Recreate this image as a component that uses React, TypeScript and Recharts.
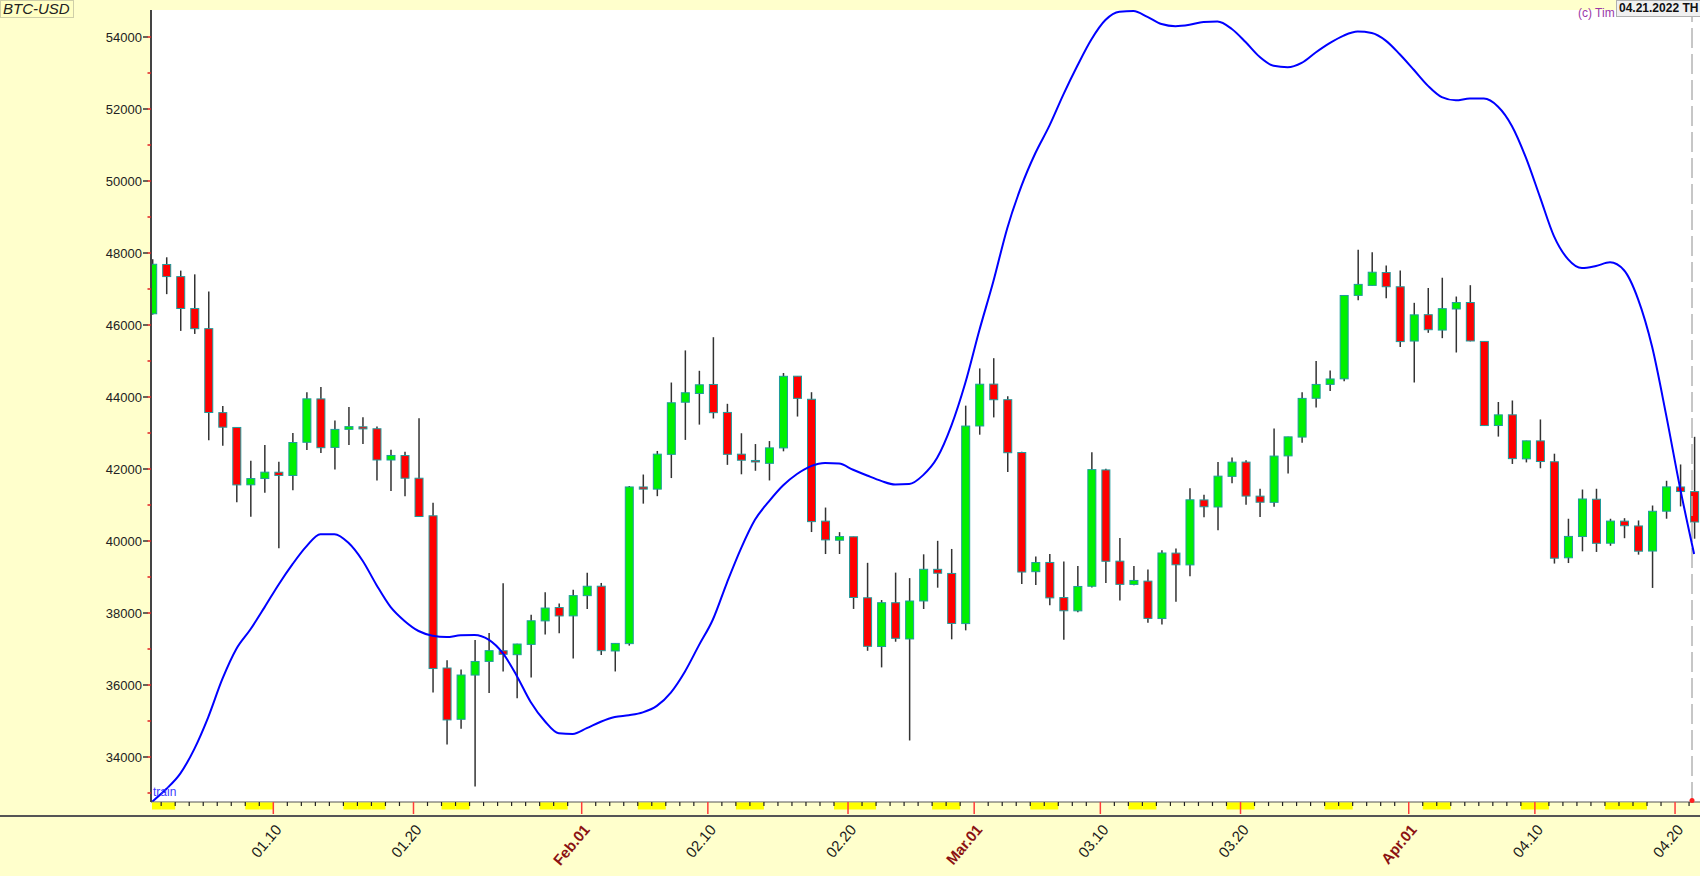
import React from 'react';
import {
  ComposedChart, Bar, Line, XAxis, YAxis, CartesianGrid, ReferenceLine, ReferenceDot,
} from 'recharts';

// BTC-USD daily candles, 01.01.2022 .. 04.21.2022
const dates = [
  '01.01', '01.02', '01.03', '01.04', '01.05', '01.06', '01.07', '01.08', '01.09', '01.10',
  '01.11', '01.12', '01.13', '01.14', '01.15', '01.16', '01.17', '01.18', '01.19', '01.20',
  '01.21', '01.22', '01.23', '01.24', '01.25', '01.26', '01.27', '01.28', '01.29', '01.30', '01.31',
  '02.01', '02.02', '02.03', '02.04', '02.05', '02.06', '02.07', '02.08', '02.09', '02.10',
  '02.11', '02.12', '02.13', '02.14', '02.15', '02.16', '02.17', '02.18', '02.19', '02.20',
  '02.21', '02.22', '02.23', '02.24', '02.25', '02.26', '02.27', '02.28',
  '03.01', '03.02', '03.03', '03.04', '03.05', '03.06', '03.07', '03.08', '03.09', '03.10',
  '03.11', '03.12', '03.13', '03.14', '03.15', '03.16', '03.17', '03.18', '03.19', '03.20',
  '03.21', '03.22', '03.23', '03.24', '03.25', '03.26', '03.27', '03.28', '03.29', '03.30', '03.31',
  '04.01', '04.02', '04.03', '04.04', '04.05', '04.06', '04.07', '04.08', '04.09', '04.10',
  '04.11', '04.12', '04.13', '04.14', '04.15', '04.16', '04.17', '04.18', '04.19', '04.20', '04.21',
];

const opens = [
  46312, 47681, 47344, 46459, 45899, 43566, 43154, 41561, 41735, 41910, 41820, 42742, 43947, 42599, 43102, 43172,
  43118, 42250, 42374, 41744, 40700, 36472, 35047, 36276, 36655, 36951, 36842, 37128, 37781, 38152, 37920,
  38482, 38744, 36945, 37149, 41501, 41441, 42407, 43855, 44097, 44348, 43571, 42412, 42237, 42157, 42586,
  44578, 43937, 40552, 40022, 40118, 38423, 37069, 38285, 37279, 38334, 39213, 39099, 37706,
  43195, 44358, 43925, 42458, 39148, 39404, 38429, 38060, 38743, 41974, 39440, 38794, 38885, 37846, 39664,
  39336, 41141, 40945, 41795, 42191, 41246, 41074, 42364, 42887, 43965, 44350, 44505, 46822, 47100, 47457, 47062,
  45554, 46286, 45859, 46445, 46625, 45544, 43208, 43505, 42282, 42781, 42201, 39534, 40124, 41160, 39939,
  40552, 40418, 39721, 40828, 41501, 41372,
];

const highs = [
  47827, 47881, 47511, 47407, 46929, 43749, 43154, 42229, 42664, 42199, 43001, 44135, 44278, 43347, 43725, 43437,
  43179, 42534, 42478, 43413, 41061, 36689, 36433, 37248, 37445, 38825, 37148, 37953, 38576, 38266, 38647,
  39115, 38835, 37155, 41528, 41847, 42501, 44402, 45294, 44728, 45661, 43811, 42993, 42693, 42776, 44667,
  44578, 44133, 40929, 40246, 40120, 39394, 38360, 39122, 38969, 39630, 40005, 39779, 43760,
  44794, 45078, 44022, 42480, 39566, 39640, 39430, 39304, 42466, 42005, 40082, 39309, 39209, 39743, 39795,
  41465, 41288, 42196, 42317, 42241, 41454, 43125, 42894, 44132, 44999, 44735, 46828, 48087, 48022, 47655, 47512,
  46616, 47028, 47313, 46791, 47106, 45544, 43861, 43903, 42786, 43376, 42425, 40618, 41430, 41451, 40618,
  40634, 40571, 40986, 41673, 42126, 42894,
];

const lows = [
  46288, 46857, 45836, 45752, 42798, 42646, 41077, 40672, 41338, 39797, 41408, 42529, 42447, 41983, 42669, 42691,
  41680, 41392, 41243, 40673, 35791, 34349, 34785, 33184, 35779, 36375, 35629, 36211, 37406, 37438, 36734,
  38114, 36833, 36376, 37094, 41038, 41245, 41748, 42808, 43233, 43403, 42115, 41853, 41951, 41682, 42491,
  43457, 40249, 39638, 39639, 38113, 36950, 36489, 37202, 34459, 38111, 38703, 37269, 37518,
  42953, 43433, 41915, 38806, 38777, 38212, 37260, 38021, 38706, 38833, 38347, 38773, 37728, 37681, 38310,
  39022, 40663, 40302, 41603, 41005, 40668, 40948, 41878, 42726, 43706, 44166, 44437, 46690, 47100, 46746, 45391,
  44403, 45783, 45634, 45236, 45545, 43194, 42900, 42140, 42183, 42021, 39373, 39388, 39713, 39696, 39867,
  40078, 39621, 38696, 40619, 40961, 40064,
];

const closes = [
  47687, 47345, 46458, 45898, 43569, 43161, 41558, 41734, 41912, 41821, 42736, 43949, 42592, 43100, 43177, 43114,
  42251, 42376, 41744, 40680, 36457, 35030, 36277, 36654, 36954, 36852, 37138, 37784, 38138, 37918, 38483,
  38743, 36953, 37155, 41501, 41441, 42412, 43840, 44118, 44339, 43565, 42408, 42244, 42198, 42587, 44575,
  43962, 40538, 40031, 40122, 38431, 37075, 38286, 37297, 38333, 39214, 39105, 37710, 43193,
  44355, 43924, 42452, 39138, 39401, 38420, 38062, 38737, 41983, 39437, 38795, 38904, 37850, 39667, 39339,
  41144, 40951, 41801, 42191, 41248, 41077, 42359, 42893, 43961, 44349, 44501, 46820, 47128, 47466, 47063, 45539,
  46282, 45869, 46454, 46623, 45556, 43207, 43504, 42288, 42782, 42208, 39522, 40127, 41167, 39936, 40553,
  40424, 39717, 40826, 41503, 41374, 40527,
];

// the blue "train" curve
const train = [
  32760, 33110, 33540, 34220, 35110, 36160, 37000, 37540, 38150, 38780, 39350, 39850, 40190, 40190, 39950, 39460,
  38780, 38170, 37780, 37500, 37370, 37330, 37380, 37390, 37260, 36890, 36260, 35530, 35000, 34660, 34640,
  34800, 34980, 35110, 35160, 35240, 35420, 35790, 36370, 37100, 37820, 38840, 39790, 40590, 41100, 41540,
  41860, 42080, 42170, 42150, 41980, 41820, 41670, 41570, 41580, 41830, 42310, 43190, 44380,
  45840, 47200, 48690, 49850, 50770, 51530, 52400, 53200, 53930, 54470, 54700, 54720, 54560, 54360, 54300,
  54340, 54420, 54430, 54230, 53860, 53450, 53200, 53160, 53280, 53570, 53830, 54040, 54150, 54110, 53900, 53520,
  53090, 52650, 52330, 52240, 52290, 52290, 52070, 51530, 50650, 49560, 48470, 47830, 47580, 47640, 47740,
  47520, 46720, 45400, 43510, 41470, 39640,
];

// weekend / exchange holiday days, marked yellow on the time axis
const offDays = [
  '01.01', '01.02', '01.08', '01.09', '01.15', '01.16', '01.17', '01.22', '01.23', '01.29', '01.30',
  '02.05', '02.06', '02.12', '02.13', '02.19', '02.20', '02.21', '02.26', '02.27',
  '03.05', '03.06', '03.12', '03.13', '03.19', '03.20', '03.26', '03.27',
  '04.02', '04.03', '04.09', '04.10', '04.15', '04.16', '04.17',
];

const tickLabels: Record<string, string> = {
  '01.10': '01.10', '01.20': '01.20', '02.01': 'Feb.01', '02.10': '02.10', '02.20': '02.20',
  '03.01': 'Mar.01', '03.10': '03.10', '03.20': '03.20', '04.01': 'Apr.01', '04.10': '04.10', '04.20': '04.20',
};

const yTicks = [
  33000, 34000, 35000, 36000, 37000, 38000, 39000, 40000, 41000, 42000, 43000,
  44000, 45000, 46000, 47000, 48000, 49000, 50000, 51000, 52000, 53000, 54000,
];

const W = 1700;
const H = 876;
const PLOT_LEFT = 151;
const PLOT_TOP = 10;
const PLOT_BOTTOM = 802;
const X_MIN = -0.086;
const X_MAX = 110.42;
const Y_MIN = 32750;
const Y_MAX = 54750;
const SLOT = (W - PLOT_LEFT) / (X_MAX - X_MIN);
const TICK_OFF = 0.36;
const FONT = '"Liberation Sans", Arial, sans-serif';

const rows = dates.map((d, i) => ({
  i, date: d, o: opens[i], h: highs[i], l: lows[i], c: closes[i], train: train[i],
}));

const Candle = (props: any) => {
  const { x, y, width, height, payload } = props;
  const { o, h, l, c } = payload;
  const k = height / (h - l || 1);
  const cx = x + width / 2;
  const top = y + (h - Math.max(o, c)) * k;
  const bot = y + (h - Math.min(o, c)) * k;
  const up = c >= o;
  return (
    <g>
      <line x1={cx} x2={cx} y1={y} y2={y + height} stroke="#333" strokeWidth={1.5} />
      <rect
        x={cx - 4} y={top} width={8} height={Math.max(bot - top, 1.5)}
        fill={up ? '#00f000' : '#ff0000'} stroke="#1f9c9c" strokeWidth={1}
      />
    </g>
  );
};

const XTick = (props: any) => {
  const { x, y, payload } = props;
  const d = dates[payload.value];
  if (d === undefined) return null;
  const label = tickLabels[d];
  const month = label && /[A-Za-z]/.test(label);
  const tx = x - TICK_OFF * SLOT;
  const off = offDays.includes(d);
  const left = Math.max(tx, PLOT_LEFT + 1);
  return (
    <g>
      {off && <rect x={left} y={y + 0.5} width={tx + SLOT - left} height={7} fill="#ffff00" />}
      {tx > PLOT_LEFT + 1 && (label
        ? <line x1={tx} x2={tx} y1={y} y2={y + 12} stroke="#ff3b3b" strokeWidth={1.5} />
        : <line x1={tx} x2={tx} y1={y} y2={y + 4} stroke="#222" strokeWidth={1.2} />)}
      {label && (
        <text
          transform={`translate(${tx + 9},${y + 28}) rotate(-50)`}
          textAnchor="end"
          fontFamily={FONT}
          fontSize={15}
          fontWeight={month ? 700 : 400}
          fill={month ? '#8b1212' : '#1a1a1a'}
        >
          {label}
        </text>
      )}
    </g>
  );
};

const YTick = (props: any) => {
  const { x, y, payload } = props;
  const v = payload.value;
  const major = v % 2000 === 0;
  return (
    <g>
      {major && <line x1={x - 8} x2={x - 3} y1={y} y2={y} stroke="#333" strokeWidth={1.5} />}
      <line x1={x - 3.5} x2={x} y1={y} y2={y} stroke="#e02020" strokeWidth={1.5} />
      {major && (
        <text x={x - 9} y={y} dy={4.5} textAnchor="end" fontFamily={FONT} fontSize={13} fill="#222">
          {v}
        </text>
      )}
    </g>
  );
};

export default function App() {
  return (
    <div style={{ position: 'absolute', left: 0, top: 0, width: W, height: H, background: '#ffffcc', overflow: 'hidden', fontFamily: FONT }}>
      <ComposedChart width={W} height={H} data={rows} margin={{ top: PLOT_TOP, right: 0, bottom: 0, left: 0 }}>
        <CartesianGrid fill="#ffffff" horizontal={false} vertical={false} stroke="none" />
        <XAxis
          type="number" dataKey="i" domain={[X_MIN, X_MAX]} allowDataOverflow
          ticks={rows.map(r => r.i)} interval={0} tick={<XTick />}
          tickLine={false} tickSize={0} tickMargin={0} height={H - PLOT_BOTTOM}
          axisLine={{ stroke: '#555', strokeWidth: 1 }}
        />
        <YAxis
          type="number" domain={[Y_MIN, Y_MAX]} allowDataOverflow
          ticks={yTicks} interval={0} tick={<YTick />}
          tickLine={false} tickSize={0} tickMargin={0} width={PLOT_LEFT}
          axisLine={{ stroke: '#444', strokeWidth: 2 }}
        />
        <ReferenceLine x={109.85} stroke="#b4b4b4" strokeWidth={1.5} strokeDasharray="20 6" />
        <Bar dataKey={(r: any) => [r.l, r.h]} barSize={9} shape={<Candle />} isAnimationActive={false} />
        <Line
          type="monotone" dataKey="train" stroke="#0000ff" strokeWidth={2}
          dot={false} activeDot={false} isAnimationActive={false}
        />
        <ReferenceDot x={109.85} y={32790} r={2.5} fill="#ff2020" stroke="none" />
      </ComposedChart>

      <div style={{ position: 'absolute', left: 153, top: 785, fontSize: 12, color: '#3c3cff' }}>train</div>
      <div style={{ position: 'absolute', left: 0, top: 815, width: W, height: 2, background: '#555' }} />
      <div style={{
        position: 'absolute', left: 0, top: 0, width: 74, height: 18, boxSizing: 'border-box',
        border: '1px solid #cfcfa8', background: '#ffffc4', fontStyle: 'italic', fontSize: 15,
        lineHeight: '16px', paddingLeft: 2, color: '#222',
      }}>
        BTC-USD
      </div>
      <div style={{
        position: 'absolute', left: 1578, top: 6, fontSize: 12, color: '#9a38a8', whiteSpace: 'nowrap',
      }}>
        (c) Tim
      </div>
      <div style={{
        position: 'absolute', left: 1616, top: 0, width: 90, height: 17, boxSizing: 'border-box',
        background: '#f0f0f0', border: '1px solid #b0b0b0', fontWeight: 700, fontSize: 12,
        lineHeight: '15px', paddingLeft: 2, color: '#111', whiteSpace: 'nowrap',
      }}>
        04.21.2022 TH
      </div>
    </div>
  );
}
